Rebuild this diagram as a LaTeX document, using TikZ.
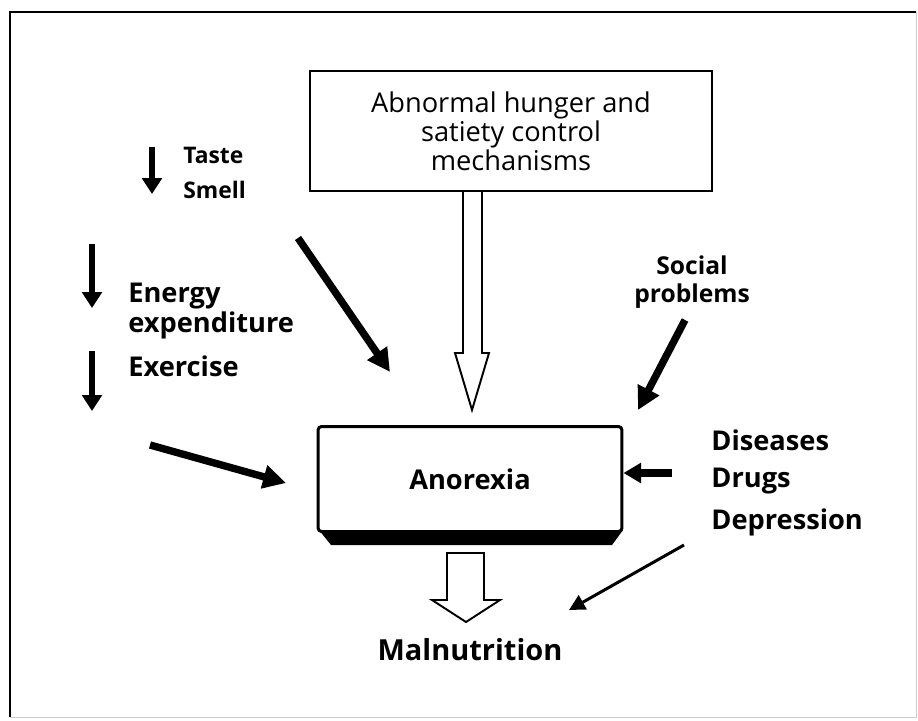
\documentclass[tikz,border=0pt]{standalone}
\usepackage{fontspec}
\setmainfont{Open Sans}
\usetikzlibrary{positioning, arrows.meta}

\begin{document}
\begin{tikzpicture}[x=0.02cm, y=-0.02cm,
        box/.style={draw, line width=1.3pt, align=center, inner sep=0pt},
        lbl/.style={font=\fontsize{15.5}{18}\selectfont\bfseries, anchor=west, inner sep=0pt},
        small/.style={font=\fontsize{13}{15}\selectfont\bfseries, anchor=west, inner sep=0pt},
        bigarr/.style={line width=4.2pt, -{Triangle[length=13pt, width=13pt]}},
        downarr/.style={line width=3.4pt, -{Triangle[length=9pt, width=11pt]}},
        thinarr/.style={line width=1.7pt, -{Triangle[length=9pt, width=9pt]}},
        hollow/.style={draw, line width=1.1pt, fill=white}
    ]

    \useasboundingbox (0,0) rectangle (918,720);
    \draw[line width=1.2pt] (10,717) -- (10,12) -- (916,12);
    \draw[gray!40] (10,717) -- (916,717) -- (916,12);

    % boxes
    \node[box, minimum width=8.04cm, minimum height=2.4cm,
          font=\fontsize{15.5}{16.5}\selectfont] (ctrl) at (511,131)
        {Abnormal hunger and\\satiety control\\mechanisms};

    \fill (319,530) -- (623,530) -- (612,545) -- (331,545) -- cycle;
    \node[box, line width=1.7pt, rounded corners=2pt, fill=white,
          minimum width=6.08cm, minimum height=2.1cm,
          font=\fontsize{15.5}{18}\selectfont\bfseries] (anor) at (470,479) {Anorexia};

    \node[font=\fontsize{16.5}{18}\selectfont\bfseries, inner sep=0pt] (maln) at (470,650) {Malnutrition};

    % labels
    \node[small] (taste) at (183,155) {Taste};
    \node[small] (smell) at (183,190) {Smell};
    \node[lbl] (energy) at (128,296) {Energy};
    \node[lbl] (expend) at (128,325) {expenditure};
    \node[lbl] (exerc) at (128,366) {Exercise};
    \node[small, anchor=center, align=center, font=\fontsize{14}{16}\selectfont\bfseries]
        (social) at (692,282) {Social\\problems};
    \node[lbl] (dis) at (711,440) {Diseases};
    \node[lbl] (drugs) at (711,481) {Drugs};
    \node[lbl] (depr) at (711,522) {Depression};

    % decrease markers
    \coordinate (t1) at (152,147);
    \coordinate (t2) at (152,194);
    \coordinate (e1) at (92,244);
    \coordinate (e2) at (92,308);
    \coordinate (x1) at (92,351);
    \coordinate (x2) at (92,411);
    \draw[downarr] (t1) -- (t2);
    \draw[downarr] (e1) -- (e2);
    \draw[downarr] (x1) -- (x2);

    % arrows into anorexia
    \coordinate (a1) at (298,238);
    \coordinate (a2) at (390,372);
    \coordinate (b1) at (150,445);
    \coordinate (b2) at (286,483);
    \coordinate (s1) at (685,320);
    \coordinate (s2) at (638,410);
    \coordinate (d1) at (672,473);
    \draw[bigarr] (a1) -- (a2);
    \draw[bigarr] (b1) -- (b2);
    \draw[bigarr] (s1) -- (s2);
    \draw[line width=4pt, -{Triangle[length=10pt, width=11pt]}] (d1) -- (anor.east |- d1);

    \coordinate (p1) at (684,545);
    \coordinate (p2) at (569,610);
    \draw[thinarr] (p1) -- (p2);

    % hollow arrows
    \draw[hollow] (ctrl.south -| 463,0) -- (463,353) -- (455,353) -- (472,410)
        -- (489,353) -- (482,353) -- (ctrl.south -| 482,0);
    \draw[hollow] (447,553) -- (447,600) -- (432,600) -- (466,622)
        -- (500,600) -- (484,600) -- (484,553) -- cycle;

\end{tikzpicture}
\end{document}
